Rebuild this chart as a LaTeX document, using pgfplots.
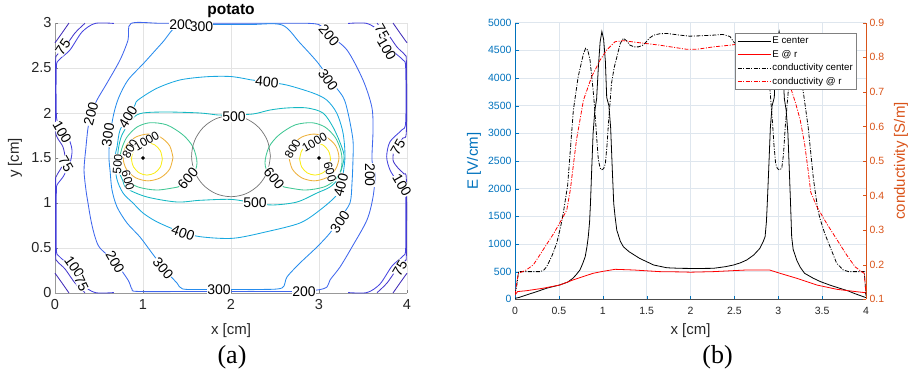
\documentclass[border=0pt]{standalone}
\usepackage{fontspec}
\setmainfont{Liberation Sans}
\newfontfamily\seriffont{Liberation Serif}
\usepackage{pgfplots}
\pgfplotsset{compat=1.18}
\definecolor{matblue}{rgb}{0,0.447,0.741}
\definecolor{matorange}{rgb}{0.85,0.325,0.098}
\definecolor{c50}{rgb}{0.25,0.17,0.72}
\definecolor{c75}{rgb}{0.27,0.22,0.80}
\definecolor{c100}{rgb}{0.28,0.27,0.88}
\definecolor{c200}{rgb}{0.25,0.40,0.93}
\definecolor{c300}{rgb}{0.15,0.55,0.93}
\definecolor{c400}{rgb}{0.10,0.66,0.88}
\definecolor{c500}{rgb}{0.08,0.72,0.76}
\definecolor{c600}{rgb}{0.25,0.78,0.58}
\definecolor{c800}{rgb}{0.93,0.69,0.22}
\definecolor{c1000}{rgb}{0.98,0.93,0.10}
\tikzset{dd/.style={dash pattern=on 4pt off 1.5pt on 1pt off 1.5pt},
  clab/.style={font=\fontsize{14}{16}\selectfont, fill=white, inner sep=0.3pt, text=black},
  slab/.style={font=\fontsize{12}{14}\selectfont, fill=white, inner sep=0.2pt, text=black}}
\pgfplotsset{cl/.style={line width=0.85pt, smooth, tension=0.5}}
\begin{document}
\begin{tikzpicture}
\useasboundingbox (0,0) rectangle (912pt,372pt);
% ---------------- left: contour ----------------
\begin{axis}[
  at={(55pt,79pt)}, anchor=south west,
  width=352pt, height=270pt, scale only axis,
  xmin=0, xmax=4, ymin=0, ymax=3,
  xtick={0,1,2,3,4}, ytick={0,0.5,1,1.5,2,2.5,3},
  axis x line*=bottom, axis y line*=left,
  axis line style={black!40, line width=0.8pt},
  tick style={black!50}, major tick length=3.5pt, tick align=inside,
  grid=major, grid style={black!11, line width=0.5pt},
  ticklabel style={font=\fontsize{14.5}{16}\selectfont, text=black!85},
  /pgf/number format/assume math mode=true,
  xticklabel style={yshift=-3pt},
  xlabel={x [cm]}, ylabel={y [cm]},
  xlabel style={at={(axis description cs:0.5,-0.1407)}, anchor=center, font=\fontsize{15}{17}\selectfont, text=black!85},
  ylabel style={at={(axis description cs:-0.1136,0.5)}, anchor=center, font=\fontsize{15}{17}\selectfont, text=black!85},
  clip=false,
]
% corner curves
\addplot[cl,c50] coordinates {(0.159,3.0)(0.08,2.889)(0.023,2.811)(0.0,2.78)};
\addplot[cl,c50] coordinates {(0.159,0)(0.08,0.111)(0.023,0.189)(0,0.22)};
\addplot[cl,c50] coordinates {(3.841,3.0)(3.92,2.889)(3.977,2.811)(4,2.78)};
\addplot[cl,c50] coordinates {(3.841,0)(3.92,0.111)(3.977,0.189)(4,0.22)};
% 75
\addplot[cl,c75] coordinates {(0.341,2.997)(0.227,2.889)(0.114,2.733)(0.023,2.644)(0.007,2.55)(0.007,1.85)(0.023,1.733)(0.091,1.622)(0.114,1.478)(0.057,1.367)(0.011,1.289)(0.007,1.2)(0.007,0.45)(0.023,0.356)(0.114,0.267)(0.227,0.111)(0.341,0.003)};
\addplot[cl,c75] coordinates {(3.659,2.997)(3.773,2.889)(3.886,2.733)(3.977,2.644)(3.993,2.55)(3.993,1.8)(3.955,1.722)(3.864,1.626)(3.841,1.478)(3.898,1.389)(3.966,1.322)(3.993,1.25)(3.993,0.45)(3.977,0.356)(3.886,0.267)(3.773,0.111)(3.659,0.003)};
% 100
\addplot[cl,c100] coordinates {(0.67,2.995)(0.455,2.995)(0.307,2.9)(0.17,2.7)(0.045,2.589)(0.015,2.5)(0.015,2.0)(0.04,1.88)(0.148,1.733)(0.193,1.589)(0.17,1.444)(0.091,1.289)(0.023,1.2)(0.015,1.1)(0.015,0.5)(0.045,0.41)(0.17,0.3)(0.307,0.1)(0.455,0.005)(0.67,0.005)};
\addplot[cl,c100] coordinates {(3.33,2.995)(3.545,2.995)(3.693,2.9)(3.83,2.7)(3.955,2.589)(3.985,2.5)(3.985,1.9)(3.94,1.811)(3.807,1.681)(3.769,1.514)(3.807,1.367)(3.883,1.256)(3.977,1.181)(3.985,1.1)(3.985,0.5)(3.955,0.411)(3.83,0.3)(3.693,0.1)(3.545,0.005)(3.33,0.005)};
% 200
\addplot[cl,c200] coordinates {(1.648,2.997)(1.2,2.997)(0.864,2.995)(0.83,2.811)(0.739,2.589)(0.591,2.333)(0.477,2.144)(0.409,1.989)(0.375,1.833)(0.352,1.622)(0.33,1.367)(0.352,1.144)(0.375,1.0)(0.41,0.8)(0.455,0.622)(0.511,0.5)(0.682,0.344)(0.83,0.144)(0.875,0.044)(0.95,0.017)(1.648,0.017)(2.67,0.017)(2.977,0.033)(3.091,0.067)(3.125,0.144)(3.239,0.289)(3.375,0.511)(3.545,0.811)(3.614,1.067)(3.636,1.311)(3.602,1.478)(3.614,1.811)(3.6,2.067)(3.5,2.367)(3.318,2.7)(3.114,2.867)(2.989,2.985)(2.591,2.997)(1.648,2.997)};
% 300
\addplot[cl,c300] coordinates {(1.795,2.983)(1.42,2.989)(1.216,2.778)(1.011,2.556)(0.83,2.367)(0.727,2.178)(0.67,2.0)(0.625,1.756)(0.614,1.589)(0.614,1.478)(0.625,1.367)(0.648,1.144)(0.705,0.956)(0.818,0.778)(0.966,0.622)(1.102,0.444)(1.25,0.256)(1.386,0.111)(1.45,0.045)(1.682,0.039)(2.011,0.039)(2.33,0.039)(2.58,0.056)(2.636,0.178)(2.784,0.333)(2.977,0.511)(3.125,0.667)(3.239,0.833)(3.352,1.0)(3.375,1.222)(3.386,1.478)(3.386,1.7)(3.33,2.0)(3.273,2.178)(3.125,2.367)(2.989,2.556)(2.784,2.778)(2.58,2.978)(2.216,2.983)(1.795,2.983)};
% 400
\addplot[cl,c400] coordinates {(2.216,2.37)(2.0,2.405)(1.724,2.403)(1.42,2.367)(1.156,2.274)(0.943,2.144)(0.909,2.089)(0.83,1.956)(0.739,1.811)(0.705,1.622)(0.682,1.5)(0.701,1.274)(0.773,1.111)(0.886,1.0)(1.0,0.889)(1.156,0.792)(1.4,0.69)(1.648,0.626)(2.023,0.608)(2.406,0.681)(2.784,0.778)(3.011,0.922)(3.201,1.089)(3.26,1.25)(3.295,1.511)(3.273,1.778)(3.201,2.0)(3.088,2.144)(2.932,2.222)(2.633,2.311)(2.409,2.344)(2.216,2.37)};
% 500
\addplot[cl,c500] coordinates {(2.0,1.978)(1.852,1.978)(1.648,2.0)(1.273,2.011)(1.0,2.0)(0.886,1.944)(0.761,1.756)(0.72,1.6)(0.713,1.5)(0.725,1.36)(0.77,1.25)(0.818,1.16)(1.045,1.067)(1.386,1.011)(1.648,1.03)(2.0,1.04)(2.273,1.0)(2.477,0.978)(2.75,1.011)(2.977,1.111)(3.125,1.178)(3.22,1.28)(3.285,1.5)(3.25,1.644)(3.159,1.844)(3.045,2.0)(2.864,2.056)(2.636,2.056)(2.443,2.033)(2.25,1.989)(2.0,1.978)};
% 600
\addplot[cl,c600] coordinates {(1.398,1.178)(1.159,1.144)(0.943,1.178)(0.818,1.256)(0.75,1.367)(0.739,1.5)(0.761,1.611)(0.818,1.733)(0.932,1.844)(1.08,1.892)(1.273,1.867)(1.455,1.756)(1.568,1.622)(1.614,1.444)(1.56,1.3)(1.398,1.178)};
\addplot[cl,c600] coordinates {(2.602,1.178)(2.841,1.144)(3.057,1.178)(3.182,1.256)(3.25,1.367)(3.261,1.5)(3.239,1.611)(3.182,1.733)(3.068,1.844)(2.92,1.892)(2.727,1.867)(2.545,1.756)(2.432,1.622)(2.386,1.444)(2.44,1.3)(2.602,1.178)};
% 800
\addplot[cl,c800] coordinates {(1.341,1.506)(1.303,1.636)(1.199,1.731)(1.057,1.766)(0.915,1.731)(0.811,1.636)(0.773,1.506)(0.811,1.376)(0.915,1.281)(1.057,1.246)(1.199,1.281)(1.303,1.376)(1.341,1.506)};
\addplot[cl,c800] coordinates {(2.659,1.506)(2.697,1.636)(2.801,1.731)(2.943,1.766)(3.085,1.731)(3.189,1.636)(3.227,1.506)(3.189,1.376)(3.085,1.281)(2.943,1.246)(2.801,1.281)(2.697,1.376)(2.659,1.506)};
% 1000
\addplot[cl,c1000] coordinates {(1.22,1.49)(1.197,1.58)(1.133,1.646)(1.045,1.67)(0.958,1.646)(0.893,1.58)(0.87,1.49)(0.893,1.40)(0.958,1.334)(1.045,1.31)(1.133,1.334)(1.197,1.40)(1.22,1.49)};
\addplot[cl,c1000] coordinates {(2.78,1.49)(2.803,1.58)(2.867,1.646)(2.955,1.67)(3.042,1.646)(3.107,1.58)(3.13,1.49)(3.107,1.40)(3.042,1.334)(2.955,1.31)(2.867,1.334)(2.803,1.40)(2.78,1.49)};
% circle
\addplot[line width=0.7pt, smooth, tension=0.55, black!55] coordinates {(2.448,1.52)(2.414,1.692)(2.317,1.838)(2.172,1.936)(2.0,1.97)(1.828,1.936)(1.683,1.838)(1.586,1.692)(1.552,1.52)(1.586,1.348)(1.683,1.202)(1.828,1.104)(2.0,1.07)(2.172,1.104)(2.317,1.202)(2.414,1.348)(2.448,1.52)};
% labels
\node[clab,rotate=55] at (axis cs:0.091,2.733) {75};
\node[clab,rotate=75] at (axis cs:0.409,1.989) {200};
\node[clab,rotate=82] at (axis cs:0.602,1.756) {300};
\node[clab,rotate=59] at (axis cs:0.830,1.956) {400};
\node[clab] at (axis cs:1.432,2.978) {200};
\node[clab] at (axis cs:1.665,2.956) {300};
\node[clab] at (axis cs:2.034,1.956) {500};
\node[clab,rotate=-5] at (axis cs:2.409,2.344) {400};
\node[clab,rotate=-55] at (axis cs:3.102,2.367) {300};
\node[clab,rotate=-50] at (axis cs:3.114,2.867) {200};
\node[clab,rotate=-60] at (axis cs:3.716,2.9) {75};
\node[clab,rotate=-60] at (axis cs:3.77,2.71) {100};
\node[clab,rotate=60] at (axis cs:3.898,1.622) {75};
\node[clab,rotate=-60] at (axis cs:3.943,1.2) {100};
\node[clab,rotate=-60] at (axis cs:0.08,1.789) {100};
\node[clab,rotate=-60] at (axis cs:0.125,1.433) {75};
\node[clab,rotate=-90] at (axis cs:3.58,1.311) {200};
\node[clab,rotate=56] at (axis cs:3.239,0.789) {300};
\node[clab,rotate=75] at (axis cs:3.25,1.2) {400};
\node[clab,rotate=-20] at (axis cs:1.455,0.667) {400};
\node[clab,rotate=-50] at (axis cs:1.227,0.278) {300};
\node[clab,rotate=-60] at (axis cs:0.682,0.344) {200};
\node[clab,rotate=-55] at (axis cs:0.22,0.29) {100};
\node[clab,rotate=-65] at (axis cs:0.3,0.11) {75};
\node[clab] at (axis cs:2.273,1.0) {500};
\node[clab,rotate=50] at (axis cs:1.511,1.278) {600};
\node[clab,rotate=-50] at (axis cs:2.489,1.278) {600};
\node[clab] at (axis cs:1.864,0.033) {300};
\node[clab] at (axis cs:2.83,0.011) {200};
\node[clab,rotate=60] at (axis cs:3.92,0.278) {75};
\node[slab,rotate=-75] at (axis cs:0.83,1.25) {600};
\node[slab,rotate=85] at (axis cs:0.712,1.43) {500};
\node[slab,rotate=60] at (axis cs:0.855,1.6) {800};
\node[slab,rotate=30] at (axis cs:1.04,1.69) {1000};
\node[slab,rotate=-75] at (axis cs:3.125,1.344) {600};
\node[slab,rotate=60] at (axis cs:2.70,1.60) {800};
\node[slab,rotate=30] at (axis cs:2.95,1.675) {1000};
\addplot[only marks, mark=*, mark size=1.6pt, black] coordinates {(1,1.5) (3,1.5)};
\end{axis}
\node[anchor=base, font=\bfseries\fontsize{15.5}{18}\selectfont] at (231pt,357.5pt) {potato};
% ---------------- right: E and conductivity ----------------
\begin{axis}[
  at={(515pt,72.7pt)}, anchor=south west,
  width=351pt, height=276.6pt, scale only axis,
  xmin=0, xmax=4, ymin=0, ymax=5000,
  xtick={0,0.5,1,1.5,2,2.5,3,3.5,4},
  ytick={0,500,1000,1500,2000,2500,3000,3500,4000,4500,5000},
  scaled y ticks=false, /pgf/number format/1000 sep={},
  /pgf/number format/assume math mode=true,
  axis x line*=bottom, axis y line*=left,
  x axis line style={black!70}, y axis line style={matblue},
  tick align=inside, major tick length=3.5pt, tick style={matblue},
  xmajorgrids, ymajorgrids, grid style={color={rgb,255:red,222;green,230;blue,238}, line width=0.5pt},
  ticklabel style={font=\fontsize{10.5}{12}\selectfont},
  xticklabel style={text=black!85, yshift=-4pt},
  yticklabel style={text=matblue},
  xlabel={x [cm]},
  xlabel style={at={(axis description cs:0.5,-0.1146)}, anchor=center, font=\fontsize{15}{17}\selectfont, text=black!85},
  ylabel={E [V/cm]},
  ylabel style={at={(axis description cs:-0.1168,0.5)}, anchor=center, font=\fontsize{15}{17}\selectfont, text=matblue},
]
\addplot[black, line width=0.8pt] coordinates {(0,18)(0.05,35)(0.13,78)(0.25,140)(0.36,200)(0.51,260)(0.6,310)(0.66,380)(0.7,450)(0.74,530)(0.77,640)(0.8,770)(0.82,950)(0.835,1130)(0.85,1400)(0.86,1735)(0.874,2340)(0.89,3000)(0.91,3420)(0.93,3620)(0.95,4200)(0.97,4650)(0.99,4840)(1.01,4700)(1.03,4300)(1.045,3650)(1.07,3500)(1.09,3100)(1.11,2300)(1.125,1735)(1.14,1500)(1.16,1250)(1.2,1050)(1.235,950)(1.3,860)(1.42,740)(1.5,680)(1.58,620)(1.73,570)(1.88,560)(2.0,558)(2.13,558)(2.26,560)(2.4,590)(2.49,620)(2.57,660)(2.64,710)(2.72,800)(2.79,920)(2.83,1050)(2.85,1130)(2.865,1400)(2.875,1735)(2.89,2300)(2.91,3100)(2.93,3500)(2.955,3650)(2.97,4300)(2.99,4700)(3.01,4840)(3.03,4650)(3.05,4200)(3.07,3620)(3.09,3420)(3.11,3000)(3.126,2340)(3.14,1735)(3.153,1130)(3.17,900)(3.21,710)(3.25,580)(3.3,470)(3.4,380)(3.48,320)(3.6,250)(3.7,200)(3.8,150)(3.86,110)(3.93,70)(4.0,30)};
\addplot[red, line width=0.8pt] coordinates {(0,80)(0.03,140)(0.13,155)(0.32,200)(0.51,258)(0.66,349)(0.89,470)(1.0,505)(1.14,542)(1.35,530)(1.65,500)(1.88,495)(2.0,490)(2.26,500)(2.64,530)(2.9,530)(3.02,470)(3.21,380)(3.44,258)(3.67,180)(3.89,138)(3.99,120)(4.0,95)};
\end{axis}
\begin{axis}[
  at={(515pt,72.7pt)}, anchor=south west,
  width=351pt, height=276.6pt, scale only axis,
  xmin=0, xmax=4, ymin=0.1, ymax=0.9,
  ytick={0.1,0.2,0.3,0.4,0.5,0.6,0.7,0.8,0.9},
  /pgf/number format/assume math mode=true,
  axis y line*=right, axis x line=none,
  y axis line style={matorange}, tick style={matorange},
  tick align=inside, major tick length=3.5pt,
  yticklabel style={text=matorange, font=\fontsize{10.5}{12}\selectfont},
  legend image code/.code={\draw[#1] (0pt,0pt) -- (33pt,0pt);},
  legend style={at={(0.9715,0.963)}, anchor=north east, draw=black!50, fill=white,
    font=\fontsize{9.7}{11}\selectfont, inner xsep=1.5pt, inner ysep=1pt, row sep=0pt,
    nodes={text height=7pt, text depth=2pt, inner ysep=2.3pt, inner xsep=1.5pt}},
  legend cell align=left,
]
\addlegendimage{black, line width=0.8pt}
\addlegendentry{E center}
\addlegendimage{red, line width=0.8pt}
\addlegendentry{E @ r}
\addplot[black, dd, line width=0.8pt] coordinates {(0,0.115)(0.02,0.14)(0.04,0.18)(0.29,0.18)(0.33,0.185)(0.36,0.194)(0.42,0.225)(0.475,0.262)(0.52,0.31)(0.55,0.349)(0.6,0.43)(0.63,0.53)(0.665,0.647)(0.72,0.744)(0.78,0.81)(0.805,0.826)(0.83,0.82)(0.855,0.792)(0.89,0.705)(0.91,0.647)(0.93,0.57)(0.95,0.503)(0.97,0.48)(0.985,0.474)(1.01,0.478)(1.03,0.493)(1.05,0.55)(1.065,0.609)(1.1,0.725)(1.13,0.77)(1.16,0.80)(1.2,0.84)(1.235,0.855)(1.27,0.848)(1.31,0.835)(1.36,0.83)(1.405,0.83)(1.45,0.834)(1.48,0.84)(1.53,0.855)(1.58,0.864)(1.65,0.868)(1.73,0.869)(1.88,0.864)(1.99,0.861)(2.1,0.862)(2.26,0.864)(2.37,0.866)(2.45,0.86)(2.49,0.845)(2.52,0.838)(2.595,0.83)(2.69,0.835)(2.765,0.855)(2.8,0.84)(2.84,0.80)(2.87,0.77)(2.9,0.725)(2.935,0.609)(2.95,0.55)(2.97,0.493)(2.99,0.478)(3.015,0.474)(3.04,0.479)(3.06,0.52)(3.08,0.6)(3.1,0.66)(3.12,0.72)(3.15,0.792)(3.175,0.82)(3.2,0.826)(3.225,0.81)(3.285,0.70)(3.34,0.60)(3.4,0.45)(3.45,0.36)(3.475,0.334)(3.53,0.29)(3.59,0.252)(3.666,0.204)(3.74,0.185)(3.8,0.18)(3.98,0.18)(4.0,0.11)};
\addlegendentry{conductivity center}
\addplot[red, dd, line width=0.8pt] coordinates {(0,0.112)(0.02,0.15)(0.04,0.175)(0.13,0.185)(0.21,0.2)(0.32,0.243)(0.44,0.29)(0.53,0.33)(0.59,0.358)(0.63,0.416)(0.7,0.56)(0.78,0.676)(0.874,0.744)(0.97,0.792)(1.045,0.821)(1.14,0.845)(1.235,0.848)(1.42,0.842)(1.65,0.835)(1.88,0.826)(1.96,0.823)(2.07,0.823)(2.26,0.83)(2.45,0.835)(2.6,0.84)(2.765,0.845)(2.86,0.838)(2.955,0.821)(3.03,0.80)(3.1,0.76)(3.15,0.705)(3.2,0.665)(3.25,0.619)(3.3,0.55)(3.34,0.474)(3.37,0.41)(3.44,0.368)(3.55,0.32)(3.67,0.272)(3.78,0.228)(3.875,0.194)(3.95,0.18)(3.98,0.175)(4.0,0.117)};
\addlegendentry{conductivity @ r}
\end{axis}
\node[rotate=90, text=matorange, font=\fontsize{15}{17}\selectfont] at (901pt,211pt) {conductivity [S/m]};
\node[font=\seriffont\fontsize{26}{30}\selectfont] at (232pt,14.5pt) {(a)};
\node[font=\seriffont\fontsize{26}{30}\selectfont] at (717.5pt,14.5pt) {(b)};
\end{tikzpicture}
\end{document}
